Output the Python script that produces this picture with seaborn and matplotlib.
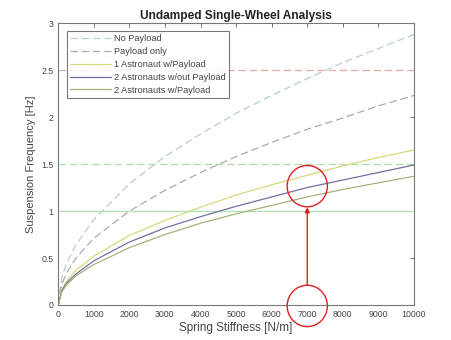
import matplotlib
matplotlib.use("Agg")
import matplotlib.pyplot as plt
from matplotlib.patches import Ellipse
import pandas as pd
import seaborn as sns

# %%
stiffness = [0, 100, 250, 500, 1000, 2000, 3000, 4000, 5000, 6000, 7000, 8000, 9000, 10000]

no_payload = [0, 0.29, 0.46, 0.64, 0.91, 1.29, 1.58, 1.82, 2.04, 2.23, 2.41, 2.58, 2.73, 2.88]
payload_only = [0, 0.22, 0.35, 0.50, 0.71, 1.00, 1.22, 1.41, 1.58, 1.73, 1.87, 1.99, 2.12, 2.23]
one_astro_payload = [0, 0.17, 0.26, 0.37, 0.52, 0.74, 0.90, 1.04, 1.17, 1.28, 1.38, 1.48, 1.57, 1.65]
two_astro_no_payload = [0, 0.15, 0.24, 0.33, 0.47, 0.67, 0.82, 0.94, 1.05, 1.15, 1.25, 1.33, 1.41, 1.49]
two_astro_payload = [0, 0.14, 0.22, 0.31, 0.43, 0.61, 0.75, 0.87, 0.97, 1.06, 1.15, 1.23, 1.30, 1.37]

series = {
    "No Payload": no_payload,
    "Payload only": payload_only,
    "1 Astronaut w/Payload": one_astro_payload,
    "2 Astronauts w/out Payload": two_astro_no_payload,
    "2 Astronauts w/Payload": two_astro_payload,
}

limit_levels = [2.5, 1.5, 1.0]

# %%
df = pd.DataFrame(
    [(k, v, name) for name, vals in series.items() for k, v in zip(stiffness, vals)],
    columns=["stiffness", "freq", "case"],
)

palette = {
    "No Payload": "#b8cece",
    "Payload only": "#ababab",
    "1 Astronaut w/Payload": "#d8d87c",
    "2 Astronauts w/out Payload": "#7070a2",
    "2 Astronauts w/Payload": "#a6b27c",
}
dashes = {
    "No Payload": (6, 3),
    "Payload only": (6, 3),
    "1 Astronaut w/Payload": "",
    "2 Astronauts w/out Payload": "",
    "2 Astronauts w/Payload": "",
}

sns.set_style("white")
plt.rcParams["font.family"] = ["Liberation Sans", "DejaVu Sans"]

fig = plt.figure(figsize=(4.51, 3.40), dpi=100)
ax = fig.add_axes([0.129, 0.103, 0.789, 0.829])

sns.lineplot(
    df,
    x="stiffness",
    y="freq",
    hue="case",
    style="case",
    palette=palette,
    dashes=dashes,
    linewidth=0.9,
    ax=ax,
)

ax.axhline(limit_levels[0], color="#e8a8a8", linestyle=(0, (6, 3)), linewidth=0.9, zorder=1)
ax.axhline(limit_levels[1], color="#a8e0a8", linestyle=(0, (6, 3)), linewidth=0.9, zorder=1)
ax.axhline(limit_levels[2], color="#b4e4b4", linestyle="-", linewidth=1.0, zorder=1)

ax.set_xlim(0, 10000)
ax.set_ylim(0, 3)
ax.set_xticks(range(0, 10001, 1000))
ax.set_yticks([0, 0.5, 1, 1.5, 2, 2.5, 3])
ax.set_yticklabels(["0", "0.5", "1", "1.5", "2", "2.5", "3"])

ax.tick_params(direction="in", top=True, right=True, length=3, width=0.6,
               labelsize=6.3, colors="#555555", labelcolor="#444444")
for s in ax.spines.values():
    s.set_color("#777777")
    s.set_linewidth(0.8)

ax.set_xlabel("Spring Stiffness [N/m]", fontsize=8.5, color="#444444", labelpad=2)
ax.set_ylabel("Suspension Frequency [Hz]", fontsize=8, color="#444444", labelpad=4)
ax.set_title("Undamped Single-Wheel Analysis", fontsize=8.6, weight="bold", color="#222222", pad=3)

leg = ax.legend(loc="upper left", fontsize=6.6, frameon=True, fancybox=False,
                borderpad=0.35, labelspacing=0.42, handlelength=4.5, handletextpad=0.25,
                bbox_to_anchor=(0.012, 0.988))
leg.get_frame().set_edgecolor("#555555")
leg.get_frame().set_linewidth(0.8)
for t in leg.get_texts():
    t.set_color("#444444")

# red annotation circles and arrow
ax.add_patch(Ellipse((7000, 1.265), 1130, 0.44, fill=False, edgecolor="#e02020",
                     linewidth=1.0, zorder=5))
ax.add_patch(Ellipse((7000, -0.01), 1130, 0.44, fill=False, edgecolor="#e02020",
                     linewidth=1.0, zorder=5, clip_on=False))
ax.annotate("", xy=(7000, 1.04), xytext=(7000, 0.21),
            arrowprops=dict(arrowstyle="-|>", color="#e02020", lw=1.0,
                            mutation_scale=7, shrinkA=0, shrinkB=0))

fig.savefig("out.png", dpi=100)
